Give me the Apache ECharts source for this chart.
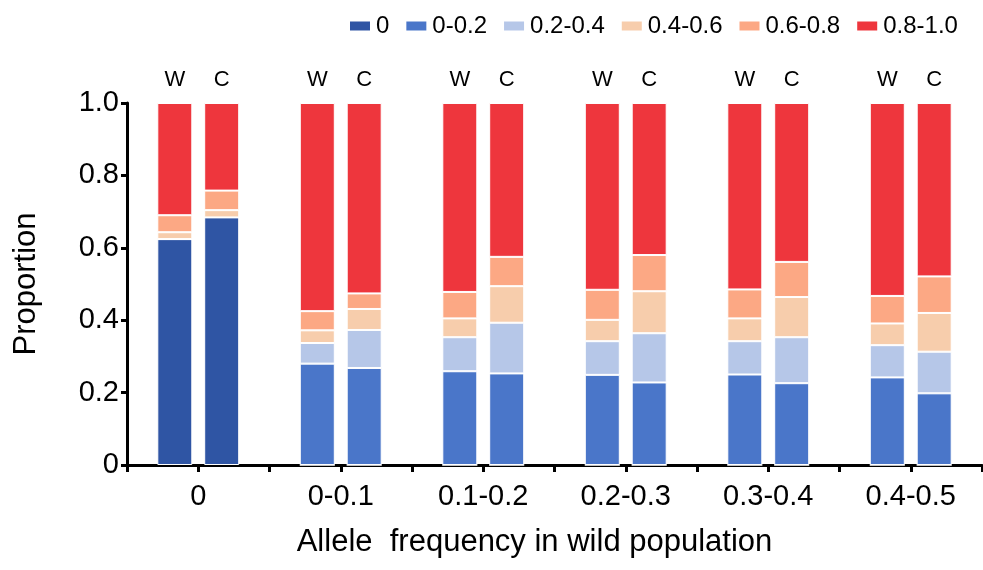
<!DOCTYPE html>
<html>
<head>
<meta charset="utf-8">
<script src="https://cdn.jsdelivr.net/npm/echarts@6/dist/echarts.min.js"></script>
<style>
  html, body { margin: 0; padding: 0; background: #fff; }
  #chart { width: 983px; height: 570px; }
</style>
</head>
<body>
<div id="chart"></div>
<script>
// groups on the x axis
var groups = ['0', '0-0.1', '0.1-0.2', '0.2-0.3', '0.3-0.4', '0.4-0.5'];
// legend classes (stack order, bottom to top)
var classes = ['0', '0-0.2', '0.2-0.4', '0.4-0.6', '0.6-0.8', '0.8-1.0'];
var colors = ['#2F55A4', '#4A76C9', '#B6C7E8', '#F7CDAC', '#FCA884', '#EE363D'];

// W (wild) proportions per class, one array per class
var w0   = [0.624, 0, 0, 0, 0, 0];
var w02  = [0, 0.280, 0.259, 0.249, 0.250, 0.242];
var w24  = [0, 0.057, 0.094, 0.093, 0.092, 0.089];
var w46  = [0.019, 0.035, 0.052, 0.059, 0.063, 0.060];
var w68  = [0.047, 0.053, 0.073, 0.083, 0.080, 0.076];
var w810 = [0.310, 0.575, 0.522, 0.516, 0.515, 0.533];

// C proportions per class
var c0   = [0.684, 0, 0, 0, 0, 0];
var c02  = [0, 0.268, 0.253, 0.228, 0.226, 0.198];
var c24  = [0, 0.105, 0.140, 0.136, 0.127, 0.115];
var c46  = [0.020, 0.058, 0.101, 0.116, 0.111, 0.107];
var c68  = [0.054, 0.043, 0.081, 0.100, 0.097, 0.101];
var c810 = [0.242, 0.526, 0.425, 0.420, 0.439, 0.479];

var wData = [w0, w02, w24, w46, w68, w810];
var cData = [c0, c02, c24, c46, c68, c810];

var font = 'Liberation Sans, Arial, sans-serif';
var myChart = echarts.init(document.getElementById('chart'));

function makeSeries(stackName, data, tag) {
    var out = [];
    for (var i = 0; i < classes.length; i++) {
        var s = {
            name: classes[i],
            type: 'bar',
            stack: stackName,
            xAxisIndex: 0,
            barWidth: 35,
            barGap: '34%',
            itemStyle: { color: colors[i], borderColor: '#fff', borderWidth: 1 },
            emphasis: { disabled: true },
            data: data[i]
        };
        if (i == classes.length - 1) {
            s.label = {
                show: true,
                position: 'top',
                distance: 12,
                formatter: function () { return tag; },
                color: '#000',
                fontSize: 22,
                fontFamily: font
            };
        }
        out.push(s);
    }
    return out;
}

var ticks12 = [];
for (var k = 0; k < groups.length * 2; k++) ticks12.push('');

var option = {
    animation: false,
    textStyle: { fontFamily: font },
    legend: {
        left: 343,
        top: 9,
        itemWidth: 22,
        itemHeight: 11,
        itemGap: 15,
        icon: 'rect',
        textStyle: { fontSize: 24, color: '#000', fontFamily: font },
        data: classes
    },
    grid: { left: 127, right: 1, top: 103, bottom: 105 },
    xAxis: [
        {
            type: 'category',
            position: 'bottom',
            data: groups,
            axisLine: { lineStyle: { color: '#000', width: 3 } },
            axisTick: { show: false },
            axisLabel: { color: '#000', fontSize: 29, margin: 17, fontFamily: font },
            name: 'Allele  frequency in wild population',
            nameLocation: 'middle',
            nameGap: 62,
            nameTextStyle: { color: '#000', fontSize: 31, fontFamily: font, padding: [0, 40, 0, 0] }
        },
        {
            type: 'category',
            position: 'bottom',
            data: ticks12,
            axisLine: { show: false },
            axisTick: { show: true, length: 7, lineStyle: { color: '#000', width: 3 } },
            axisLabel: { show: false }
        }
    ],
    yAxis: {
        type: 'value',
        min: 0,
        max: 1,
        interval: 0.2,
        splitLine: { show: false },
        axisLine: { show: true, lineStyle: { color: '#000', width: 3 } },
        axisTick: { show: true, length: 6, lineStyle: { color: '#000', width: 3 } },
        axisLabel: {
            color: '#000', fontSize: 29, margin: 8, fontFamily: font,
            formatter: function (v) { return v === 0 ? '0' : v.toFixed(1); }
        },
        name: 'Proportion',
        nameLocation: 'middle',
        nameGap: 85,
        nameTextStyle: { color: '#000', fontSize: 31, fontFamily: font }
    },
    series: makeSeries('W', wData, 'W').concat(makeSeries('C', cData, 'C'))
};

myChart.setOption(option);
window.addEventListener('resize', myChart.resize);
</script>
</body>
</html>
